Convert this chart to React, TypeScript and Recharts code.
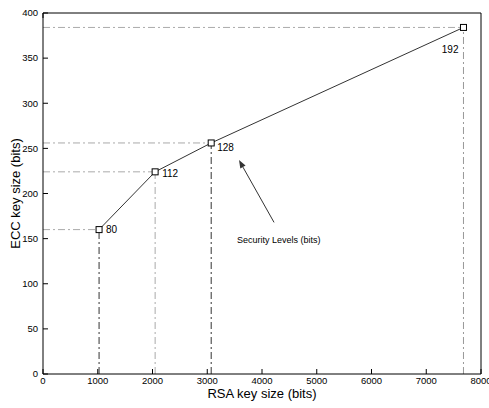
import {
	ComposedChart,
	Line,
	XAxis,
	YAxis,
	ReferenceLine,
	Label,
} from "recharts";

const rsaBits = [1024, 2048, 3072, 7680];
const eccBits = [160, 224, 256, 384];
const securityLevels = [80, 112, 128, 192];
const xTicks = [0, 1000, 2000, 3000, 4000, 5000, 6000, 7000, 8000];
const yTicks = [0, 50, 100, 150, 200, 250, 300, 350, 400];

const data = rsaBits.map((rsa, i) => ({
	rsa,
	ecc: eccBits[i],
	level: securityLevels[i],
}));

// label offsets around each marker (dx, dy, anchor)
const labelPlacement = [
	{ dx: 7, dy: 0, anchor: "start" },
	{ dx: 7, dy: 2, anchor: "start" },
	{ dx: 6, dy: 5, anchor: "start" },
	{ dx: -5, dy: 22, anchor: "end" },
];

// vertical guide colours per point
const vColors = ["#333", "#aaa", "#333", "#999"];
const dashDot = "7 3 2 3";
const font = "'Liberation Sans', Arial, sans-serif";

const SquareDot = (props: any) => {
	const { cx, cy, index } = props;
	const p = labelPlacement[index];
	return (
		<g key={`dot-${index}`}>
			<rect
				x={cx - 3}
				y={cy - 3}
				width={6}
				height={6}
				fill="#fff"
				stroke="#000"
				strokeWidth={1}
			/>
			<text
				x={cx + p.dx}
				y={cy + p.dy}
				dy="0.35em"
				textAnchor={p.anchor}
				fontSize={10}
				fontFamily={font}
				fill="#000"
			>
				{securityLevels[index]}
			</text>
		</g>
	);
};

const ArrowShape = (props: any) => {
	const { x1, y1, x2, y2 } = props;
	const ang = Math.atan2(y2 - y1, x2 - x1);
	const len = 8;
	const w = 3;
	const bx = x2 - len * Math.cos(ang);
	const by = y2 - len * Math.sin(ang);
	const px = -Math.sin(ang) * w;
	const py = Math.cos(ang) * w;
	return (
		<g>
			<line x1={x1} y1={y1} x2={bx} y2={by} stroke="#333" strokeWidth={1} />
			<polygon
				points={`${x2},${y2} ${bx + px},${by + py} ${bx - px},${by - py}`}
				fill="#333"
			/>
			<text
				x={x1 - 37}
				y={y1 + 21}
				fontSize={9}
				fontFamily={font}
				fill="#000"
			>
				Security Levels (bits)
			</text>
		</g>
	);
};

export default function App() {
	return (
		<div style={{ position: "absolute", left: 0, top: 0, background: "#fff" }}>
			<ComposedChart
				width={489}
				height={408}
				data={data}
				margin={{ top: 0, right: 0, bottom: 0, left: 0 }}
			>
				<XAxis
					xAxisId="bottom"
					type="number"
					dataKey="rsa"
					domain={[0, 8000]}
					ticks={xTicks}
					height={34}
					tickSize={-5}
					tickMargin={8}
					stroke="#000"
					tick={{ fill: "#000", fontSize: 9.5, fontFamily: font }}
					interval={0}
				>
					<Label
						content={(p: any) => (
							<text
								x={p.viewBox.x + p.viewBox.width / 2}
								y={393}
								dy="0.35em"
								textAnchor="middle"
								fontSize={13}
								fontFamily={font}
								fill="#000"
							>
								RSA key size (bits)
							</text>
						)}
					/>
				</XAxis>
				<XAxis
					xAxisId="top"
					orientation="top"
					type="number"
					domain={[0, 8000]}
					ticks={xTicks}
					height={13}
					tickSize={-5}
					stroke="#000"
					tickFormatter={() => ""}
					interval={0}
				/>
				<YAxis
					yAxisId="left"
					type="number"
					domain={[0, 400]}
					ticks={yTicks}
					width={43}
					tickSize={-5}
					tickMargin={10}
					stroke="#000"
					tick={{ fill: "#000", fontSize: 9.5, fontFamily: font }}
					interval={0}
				>
					<Label
						content={(p: any) => (
							<text
								x={15}
								y={p.viewBox.y + p.viewBox.height / 2}
								transform={`rotate(-90 15 ${p.viewBox.y + p.viewBox.height / 2})`}
								dy="0.35em"
								textAnchor="middle"
								fontSize={13}
								fontFamily={font}
								fill="#000"
							>
								ECC key size (bits)
							</text>
						)}
					/>
				</YAxis>
				<YAxis
					yAxisId="right"
					orientation="right"
					type="number"
					domain={[0, 400]}
					ticks={yTicks}
					width={8}
					tickSize={-5}
					stroke="#000"
					tickFormatter={() => ""}
					interval={0}
				/>
				{data.map((d, i) => (
					<ReferenceLine
						key={`h-${i}`}
						xAxisId="bottom"
						yAxisId="left"
						segment={[
							{ x: 0, y: d.ecc },
							{ x: d.rsa, y: d.ecc },
						]}
						stroke="#aaa"
						strokeDasharray={dashDot}
					/>
				))}
				{data.map((d, i) => (
					<ReferenceLine
						key={`v-${i}`}
						xAxisId="bottom"
						yAxisId="left"
						segment={[
							{ x: d.rsa, y: 0 },
							{ x: d.rsa, y: d.ecc },
						]}
						stroke={vColors[i]}
						strokeDasharray={dashDot}
					/>
				))}
				<ReferenceLine
					xAxisId="bottom"
					yAxisId="left"
					segment={[
						{ x: 4220, y: 168 },
						{ x: 3580, y: 237 },
					]}
					shape={ArrowShape}
				/>
				<Line
					xAxisId="bottom"
					yAxisId="left"
					type="linear"
					dataKey="ecc"
					stroke="#333"
					strokeWidth={1}
					dot={SquareDot}
					activeDot={false}
					isAnimationActive={false}
				/>
			</ComposedChart>
		</div>
	);
}
